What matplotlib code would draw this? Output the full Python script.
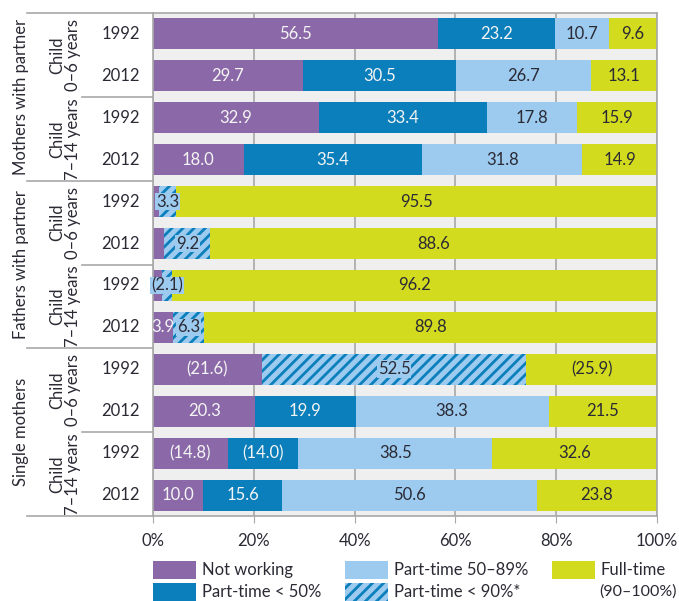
import matplotlib
matplotlib.use('Agg')
import matplotlib.pyplot as plt
import matplotlib.transforms as mtransforms
from matplotlib.patches import Rectangle
from matplotlib.lines import Line2D

plt.rcParams['font.family'] = ['Lato', 'DejaVu Sans']
plt.rcParams['hatch.linewidth'] = 2.0

# rows top to bottom
groups = ["Mothers with partner", "Fathers with partner", "Single mothers"]
subgroups = ["Child\n0–6 years", "Child\n7–14 years"]
years = ["1992", "2012"] * 6

not_working = [56.5, 29.7, 32.9, 18.0, 1.2, 2.2, 1.7, 3.9, 21.6, 20.3, 14.8, 10.0]
part_lt50 = [23.2, 30.5, 33.4, 35.4, 0, 0, 0, 0, 0, 19.9, 14.0, 15.6]
part_50_89 = [10.7, 26.7, 17.8, 31.8, 0, 0, 0, 0, 0, 38.3, 38.5, 50.6]
part_lt90 = [0, 0, 0, 0, 3.3, 9.2, 2.1, 6.3, 52.5, 0, 0, 0]
full_time = [9.6, 13.1, 15.9, 14.9, 95.5, 88.6, 96.2, 89.8, 25.9, 21.5, 32.6, 23.8]

# value labels (None = no label)
lab_nw = ["56.5", "29.7", "32.9", "18.0", None, None, None, "3.9", "(21.6)", "20.3", "(14.8)", "10.0"]
lab_p50 = ["23.2", "30.5", "33.4", "35.4", None, None, None, None, None, "19.9", "(14.0)", "15.6"]
lab_p89 = ["10.7", "26.7", "17.8", "31.8", None, None, None, None, None, "38.3", "38.5", "50.6"]
lab_p90 = [None, None, None, None, "3.3", "9.2", "(2.1)", "6.3", "52.5", None, None, None]
lab_ft = ["9.6", "13.1", "15.9", "14.9", "95.5", "88.6", "96.2", "89.8", "(25.9)", "21.5", "32.6", "23.8"]

c_purple = "#8b69a8"
c_dark = "#0a7fbc"
c_light = "#9dcbef"
c_yellow = "#d3db1f"
c_grid = "#a8a8a8"
c_text = "#2a2a35"
c_white = "#f4f4f4"
fs = 12

fig = plt.figure(figsize=(6.79, 6.01), dpi=100)
ax = fig.add_axes([153 / 679, 1 - 516 / 601, 504 / 679, 503 / 601])
ax.set_facecolor("#efefef")

y = list(range(len(years)))
h = 0.74
left = [0] * len(y)
series = [
    (not_working, lab_nw, dict(color=c_purple), c_white, False),
    (part_lt50, lab_p50, dict(color=c_dark), c_white, False),
    (part_lt90, lab_p90, dict(facecolor=c_light, edgecolor=c_dark, hatch="///", linewidth=0), c_text, True),
    (part_50_89, lab_p89, dict(color=c_light), c_text, False),
    (full_time, lab_ft, dict(color=c_yellow), c_text, False),
]
for vals, labs, style, tcol, boxed in series:
    ax.barh(y, vals, left=left, height=h, zorder=2, **style)
    for i, v in enumerate(vals):
        if labs[i] is not None:
            kw = {}
            if boxed:
                kw["bbox"] = dict(boxstyle="square,pad=0.05", facecolor=c_light, edgecolor="none")
            ax.text(left[i] + v / 2, i, labs[i], ha="center", va="center",
                    fontsize=fs, color=tcol, zorder=3, **kw)
    left = [l + v for l, v in zip(left, vals)]

ax.set_xlim(0, 100)
ax.set_ylim(11.5, -0.5)
ax.set_xticks([0, 20, 40, 60, 80, 100])
ax.set_xticklabels(["0%", "20%", "40%", "60%", "80%", "100%"], fontsize=fs, color=c_text)
ax.set_yticks([])
ax.xaxis.grid(True, color=c_grid, linewidth=1.2, zorder=1)
ax.set_axisbelow(True)
ax.tick_params(axis="x", direction="out", length=5, color=c_grid, pad=7)
for s in ax.spines.values():
    s.set_color(c_grid)
    s.set_linewidth(1.2)

# left label table
tr = mtransforms.blended_transform_factory(fig.transFigure, ax.transData)
for i, yr in enumerate(years):
    ax.text(140 / 679, i, yr, transform=tr, ha="right", va="center",
            fontsize=fs, color=c_text)
for k in range(6):
    ax.text(65 / 679, 2 * k + 0.5, subgroups[k % 2], transform=tr, rotation=90,
            ha="center", va="center", fontsize=fs, color=c_text, linespacing=1.0)
for g, name in enumerate(groups):
    ax.text(21 / 679, 4 * g + 1.5, name, transform=tr, rotation=90,
            ha="center", va="center", fontsize=fs, color=c_text)
for yy in [-0.5, 3.5, 7.5, 11.5]:
    fig.add_artist(Line2D([27 / 679, 153 / 679], [yy, yy], transform=tr, color=c_grid, linewidth=1.2))
for yy in [1.5, 5.5, 9.5]:
    fig.add_artist(Line2D([82 / 679, 153 / 679], [yy, yy], transform=tr, color=c_grid, linewidth=1.2))

# legend
legend_items = [
    (153, 570, dict(facecolor=c_purple, edgecolor="none"), "Not working"),
    (153, 592, dict(facecolor=c_dark, edgecolor="none"), "Part-time < 50%"),
    (345, 570, dict(facecolor=c_light, edgecolor="none"), "Part-time 50–89%"),
    (345, 592, dict(facecolor=c_light, edgecolor=c_dark, hatch="///", linewidth=0), "Part-time < 90%*"),
    (552, 570, dict(facecolor=c_yellow, edgecolor="none"), "Full-time"),
]
for px, py, style, label in legend_items:
    fig.add_artist(Rectangle((px / 679, 1 - (py + 9) / 601), 43 / 679, 18 / 601,
                             transform=fig.transFigure, **style))
    fig.text((px + 49) / 679, 1 - py / 601, label, ha="left", va="center",
             fontsize=fs, color=c_text)
fig.text(599 / 679, 1 - 592 / 601, "(90–100%)", ha="left", va="center",
         fontsize=11.5, color=c_text)

fig.savefig("out.png", dpi=100)
